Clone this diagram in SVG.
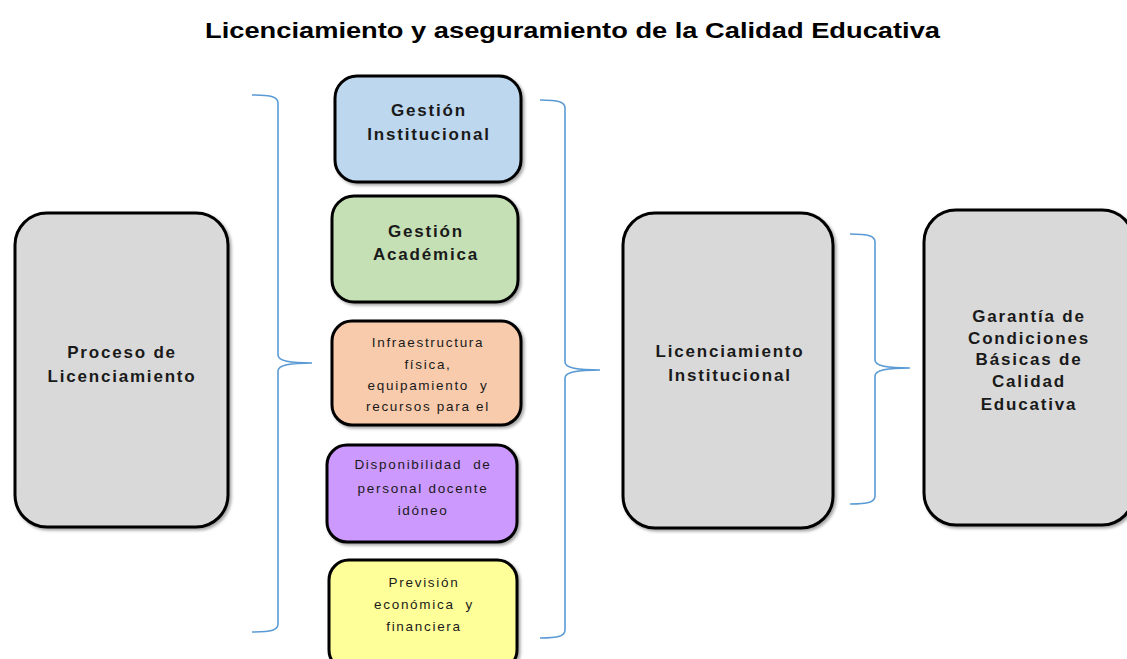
<svg xmlns="http://www.w3.org/2000/svg" width="1127" height="659" viewBox="0 0 1127 659">
<style>
.box{stroke:#000;stroke-width:3;filter:url(#sh)}
.big{font-family:"Liberation Sans",Arial,sans-serif;font-weight:bold;font-size:17px;fill:#1a1a1a;text-anchor:middle;letter-spacing:1.8px}
.small{font-family:"Liberation Sans",Arial,sans-serif;font-size:13.5px;fill:#1a1a1a;text-anchor:middle;letter-spacing:1.7px;white-space:pre}
.brace{fill:none;stroke:#5b9bd5;stroke-width:1.6}
</style>
<defs>
<filter id="sh" x="-10%" y="-10%" width="125%" height="125%">
<feDropShadow dx="2" dy="2" stdDeviation="1.5" flood-color="#000" flood-opacity="0.35"/>
</filter>
</defs>
<rect width="1127" height="659" fill="#fff"/>
<text x="205" y="38" textLength="735" lengthAdjust="spacingAndGlyphs" font-family="Liberation Sans,Arial,sans-serif" font-weight="bold" font-size="22" fill="#000">Licenciamiento y aseguramiento de la Calidad Educativa</text>

<g id="connectors">
<path class="brace" d="M252,95 C272,95 278,97 278,103 V355 C278,361 290,363 312,363 C290,363 278,365 278,371 V624 C278,630 272,632 252,632"/>
<path class="brace" d="M540,100 C559,100 565,102 565,108 V362 C565,368 577,370 600,370 C577,370 565,372 565,378 V630 C565,636 559,638 540,638"/>
<path class="brace" d="M850,234 C869,234 875,236 875,242 V360 C875,366 887,368 910,368 C887,368 875,370 875,376 V496 C875,502 869,504 850,504"/>
</g>

<g id="proceso">
<rect class="box" x="15" y="213" width="213" height="314" rx="32" fill="#d9d9d9"/>
<text class="big" x="122" y="358">Proceso de</text>
<text class="big" x="122" y="382">Licenciamiento</text>
</g>

<g id="gestion-inst">
<rect class="box" x="335" y="76" width="186" height="106" rx="22" fill="#bdd7ee"/>
<text class="big" x="429" y="116">Gestión</text>
<text class="big" x="429" y="140">Institucional</text>
</g>

<g id="gestion-acad">
<rect class="box" x="332" y="196" width="186" height="106" rx="22" fill="#c5e0b4"/>
<text class="big" x="426" y="237">Gestión</text>
<text class="big" x="426" y="260">Académica</text>
</g>

<g id="infra">
<rect class="box" x="332" y="321" width="189" height="104" rx="20" fill="#f8cbad"/>
<text class="small" x="428" y="347">Infraestructura</text>
<text class="small" x="428" y="369">física,</text>
<text class="small" x="428" y="390">equipamiento  y</text>
<text class="small" x="428" y="411">recursos para el</text>
</g>

<g id="docente">
<rect class="box" x="327" y="445" width="190" height="97" rx="20" fill="#cc99ff"/>
<text class="small" x="423" y="469">Disponibilidad  de</text>
<text class="small" x="423" y="493">personal docente</text>
<text class="small" x="423" y="515">idóneo</text>
</g>

<g id="prevision">
<rect class="box" x="329" y="560" width="188" height="110" rx="20" fill="#ffff99"/>
<text class="small" x="424" y="587">Previsión</text>
<text class="small" x="424" y="609">económica  y</text>
<text class="small" x="424" y="631">financiera</text>
</g>

<g id="lic-inst">
<rect class="box" x="623" y="213" width="210" height="315" rx="32" fill="#d9d9d9"/>
<text class="big" x="730" y="357">Licenciamiento</text>
<text class="big" x="730" y="381">Institucional</text>
</g>

<g id="garantia">
<rect class="box" x="924" y="210" width="210" height="315" rx="32" fill="#d9d9d9"/>
<text class="big" x="1029" y="322">Garantía de</text>
<text class="big" x="1029" y="344">Condiciones</text>
<text class="big" x="1029" y="365">Básicas de</text>
<text class="big" x="1029" y="387">Calidad</text>
<text class="big" x="1029" y="410">Educativa</text>
</g>
</svg>
